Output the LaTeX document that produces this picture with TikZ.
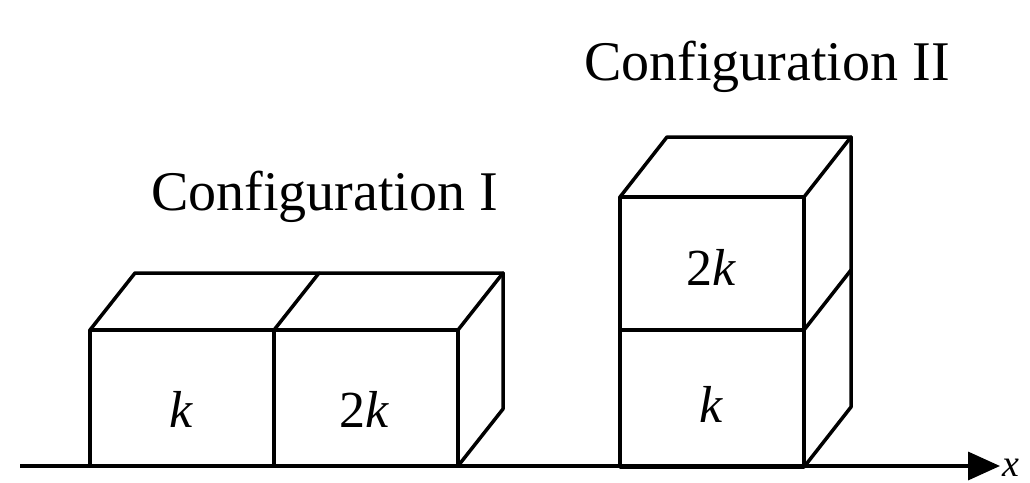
\documentclass[tikz,border=0pt]{standalone}
\usepackage{fontspec}
\setmainfont{Liberation Serif}
\usetikzlibrary{arrows.meta}
\tikzset{
  edge/.style={line width=3.5pt, line join=round, line cap=round},
  axisline/.style={line width=3.5pt, -{Triangle[length=32pt,width=28pt]}},
  title/.style={anchor=base west, inner sep=0pt, font=\fontsize{56}{60}\selectfont},
  lab/.style={anchor=base, inner sep=0pt, font=\fontsize{52}{56}\selectfont}
}
\begin{document}
\begin{tikzpicture}[x=1pt,y=-1pt]
\useasboundingbox (0,0) rectangle (1030,482);
% Configuration I
\draw[edge] (90,330) rectangle (274,466);
\draw[edge] (274,330) rectangle (458,466);
\draw[edge] (90,330) -- (135,273) -- (503,273) -- (458,330);
\draw[edge] (274,330) -- (319,273);
\draw[edge] (503,273) -- (503,409) -- (458,466);
\node[lab] (kA) at (181,427) {\textit{k}};
\node[lab] (kB) at (364,427) {2\textit{k}};
\node[title] (t1) at (151,210) {Configuration I};
% Configuration II
\draw[edge] (620,330) rectangle (804,467);
\draw[edge] (620,197) rectangle (804,330);
\draw[edge] (620,197) -- (667,137) -- (851,137) -- (804,197);
\draw[edge] (851,137) -- (851,407) -- (804,467);
\draw[edge] (804,330) -- (851,270);
\node[lab] (kC) at (711,285) {2\textit{k}};
\node[lab] (kD) at (711,422) {\textit{k}};
\node[title] (t2) at (584,80) {Configuration II};
% axis
\coordinate (ax0) at (20,466);
\coordinate (ax1) at (1000,466);
\draw[axisline] (ax0) -- (ax1);
\node[anchor=base west, inner sep=0pt, font=\fontsize{38}{42}\selectfont] (xl) at (1002,476) {\textit{x}};
\end{tikzpicture}
\end{document}
